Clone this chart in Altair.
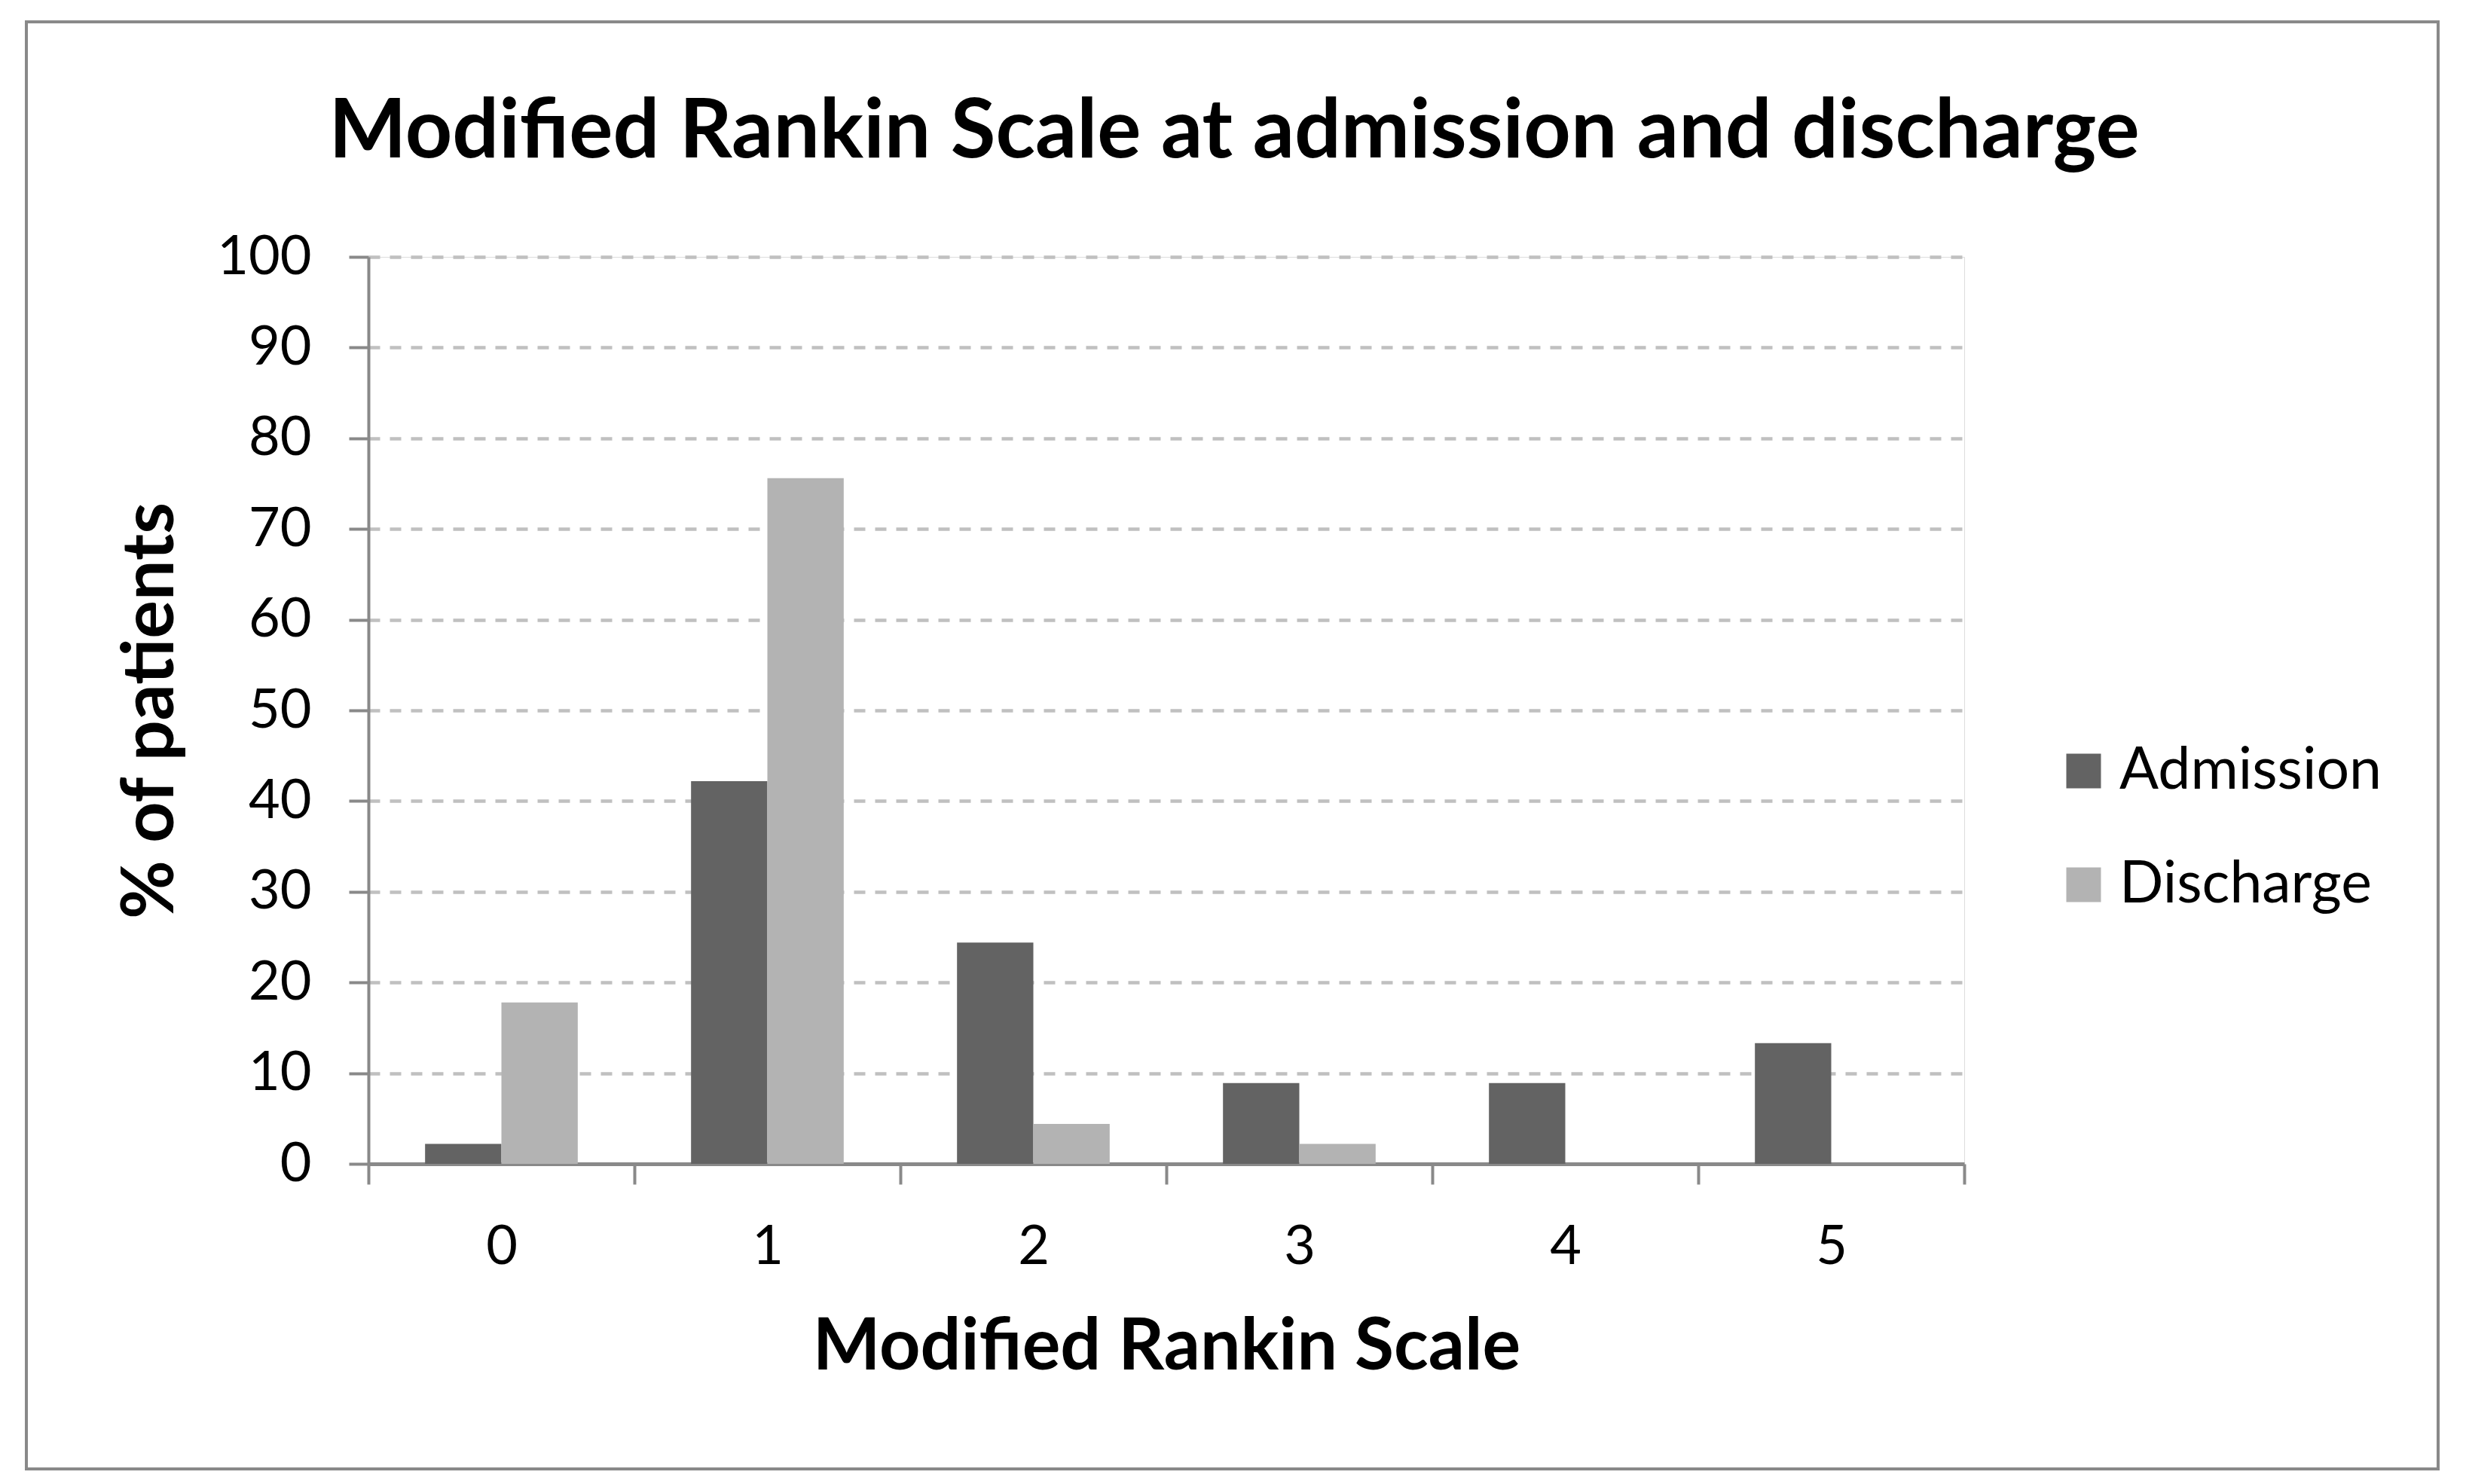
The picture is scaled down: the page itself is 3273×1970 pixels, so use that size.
import altair as alt
import pandas as pd

categories = ["0", "1", "2", "3", "4", "5"]
admission = [2.2, 42.2, 24.4, 8.9, 8.9, 13.3]
discharge = [17.8, 75.6, 4.4, 2.2, 0.0, 0.0]
series = ["Admission", "Discharge"]
colors = ["#636363", "#b3b3b3"]
y_ticks = list(range(0, 101, 10))
chart_title = "Modified Rankin Scale at admission and discharge"

rows = []
for c, a, d in zip(categories, admission, discharge):
    rows.append({"mrs": c, "group": series[0], "pct": a})
    rows.append({"mrs": c, "group": series[1], "pct": d})
df = pd.DataFrame(rows)

FONT = "Lato"
GRAY = "#898989"

bars = alt.Chart(df).mark_bar().encode(
    x=alt.X(
        "mrs:N",
        sort=categories,
        scale=alt.Scale(paddingInner=0, paddingOuter=0),
        axis=alt.Axis(
            title="Modified Rankin Scale",
            labelAngle=0,
            tickBand="extent",
            grid=False,
            domainColor=GRAY,
            domainWidth=5,
            tickColor=GRAY,
            tickWidth=4,
            tickSize=27,
            labelFont=FONT,
            labelFontSize=72,
            labelColor="black",
            labelPadding=48,
            titleFont=FONT,
            titleFontSize=95,
            titleFontWeight="bold",
            titleColor="black",
            titlePadding=51,
        ),
    ),
    xOffset=alt.XOffset(
        "group:N",
        sort=series,
        scale=alt.Scale(paddingInner=0, paddingOuter=0.742),
    ),
    y=alt.Y(
        "pct:Q",
        scale=alt.Scale(domain=[0, 100], nice=False),
        axis=alt.Axis(
            values=y_ticks,
            title="% of patients",
            domainColor=GRAY,
            domainWidth=4,
            tickColor=GRAY,
            tickWidth=4,
            tickSize=26,
            gridColor="#c0c0c0",
            gridDash=[15, 13],
            gridWidth=4.5,
            labelFont=FONT,
            labelFontSize=72,
            labelColor="black",
            labelPadding=50,
            titleFont=FONT,
            titleFontSize=95,
            titleFontWeight="bold",
            titleColor="black",
            titlePadding=40,
        ),
    ),
    color=alt.Color(
        "group:N",
        sort=series,
        scale=alt.Scale(domain=series, range=colors),
        legend=alt.Legend(
            title=None,
            orient="none",
            legendX=2238,
            legendY=644,
            symbolType="square",
            symbolSize=2116,
            symbolStrokeWidth=0,
            labelFont=FONT,
            labelFontSize=77,
            labelColor="black",
            labelOffset=9,
            labelLimit=1000,
            rowPadding=73,
        ),
    ),
)

frame = alt.Chart(pd.DataFrame({"k": [0]})).mark_rect(
    filled=False, stroke=GRAY, strokeWidth=4
).encode(
    x=alt.value(-454), x2=alt.value(2747), y=alt.value(-312), y2=alt.value(1609)
)

title_text = alt.Chart(pd.DataFrame({"k": [0]})).mark_text(
    font=FONT, fontSize=109, fontWeight="bold", color="black",
    align="center", baseline="alphabetic"
).encode(
    x=alt.value(1149), y=alt.value(-132), text=alt.value(chart_title)
)

chart = alt.layer(frame, bars, title_text).properties(
    width=2118,
    height=1204,
    padding={"left": 25, "top": 19, "right": 0, "bottom": 0},
).configure_view(stroke=None).configure(background="white")

chart.save("out.html", embed_options={"renderer": "svg", "actions": False})
